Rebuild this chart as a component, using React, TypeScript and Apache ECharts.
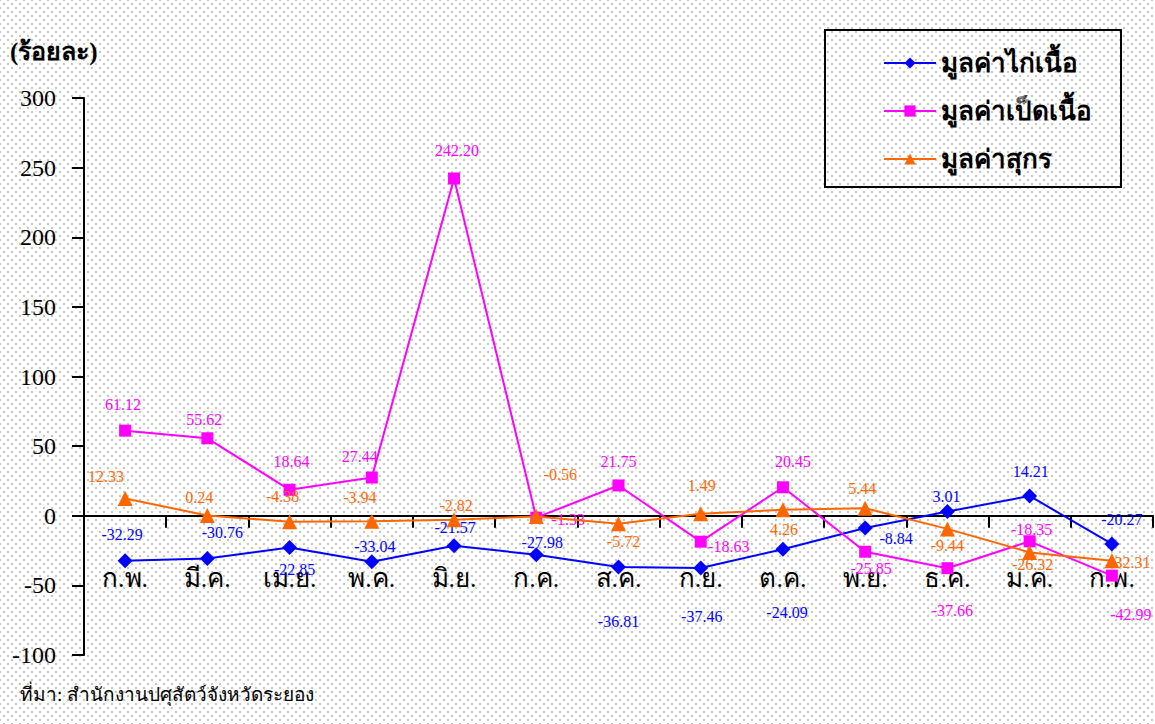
import React, { useEffect, useRef } from "react";
import * as echarts from "echarts";

const categories = ["ก.พ.", "มี.ค.", "เม.ย.", "พ.ค.", "มิ.ย.", "ก.ค.", "ส.ค.", "ก.ย.", "ต.ค.", "พ.ย.", "ธ.ค.", "ม.ค.", "ก.พ."];
const seriesNames = ["มูลค่าไก่เนื้อ", "มูลค่าเป็ดเนื้อ", "มูลค่าสุกร"];
const chicken = [-32.29, -30.76, -22.85, -33.04, -21.57, -27.98, -36.81, -37.46, -24.09, -8.84, 3.01, 14.21, -20.27];
const duck = [61.12, 55.62, 18.64, 27.44, 242.2, -1.33, 21.75, -18.63, 20.45, -25.85, -37.66, -18.35, -42.99];
const pork = [12.33, 0.24, -4.38, -3.94, -2.82, -0.56, -5.72, 1.49, 4.26, 5.44, -9.44, -26.32, -32.31];

// label offsets (layout only), relative to each point
const chickenLabelOffset = [[-3, -26], [15, -26], [5, 22], [3, -15], [1, -18], [6, -12], [0, 54], [1, 49], [4, 63], [31, 10], [-1, -15], [1, -24], [10, -24]];
const duckLabelOffset = [[-2, -26], [-3, -19], [2, -28], [-12, -21], [3, -28], [32, 2], [0, -24], [28, 5], [10, -26], [6, 17], [5, 42], [2, -12], [19, 39]];
const porkLabelOffset = [[-19, -22], [-8, -18], [-7, -25], [-12, -24], [2, -14], [24, -42], [5, 18], [1, -28], [1, 20], [-3, -20], [0, 17], [3, 12], [18, 2]];

const SERIF = "Liberation Serif";

function withLabels(values: number[], offsets: number[][], color: string) {
  return values.map((v, i) => ({
    value: v,
    label: {
      show: true,
      position: "inside",
      offset: offsets[i],
      align: "center",
      verticalAlign: "middle",
      color,
      fontSize: 16,
      fontFamily: SERIF,
      formatter: (p: any) => Number(p.value).toFixed(2),
    },
  }));
}

export default function App() {
  const ref = useRef<HTMLDivElement>(null);
  useEffect(() => {
    if (!ref.current) return;
    const chart = echarts.init(ref.current, null, { renderer: "svg" });
    const colors = ["#0000FF", "#FF00FF", "#FF6600"];
    chart.setOption({
      animation: false,
      backgroundColor: "transparent",
      color: colors,
      textStyle: { fontFamily: SERIF },
      grid: { left: 84, right: 2, top: 98, bottom: 69, containLabel: false },
      legend: {
        orient: "vertical",
        left: 878,
        top: 45,
        itemGap: 22,
        itemWidth: 52,
        itemHeight: 14,
        textStyle: { fontSize: 26, fontWeight: "bold", color: "#000", fontFamily: SERIF },
        data: seriesNames,
      },
      graphic: [
        {
          type: "rect",
          shape: { x: 825, y: 30, width: 296, height: 157 },
          style: { fill: "transparent", stroke: "#000", lineWidth: 2 },
          z: 10,
        },
        {
          type: "text",
          left: 10,
          top: 39,
          style: { text: "(ร้อยละ)", fontSize: 25, fontWeight: "bold", fill: "#000", fontFamily: SERIF },
        },
        {
          type: "text",
          left: 20,
          top: 685,
          style: { text: "ที่มา: สำนักงานปศุสัตว์จังหวัดระยอง", fontSize: 19, fill: "#000", fontFamily: SERIF },
        },
      ],
      xAxis: {
        type: "category",
        data: categories,
        boundaryGap: true,
        axisLine: { onZero: true, lineStyle: { color: "#000", width: 2 } },
        axisTick: { show: true, inside: false, length: 12, interval: 0, lineStyle: { color: "#000", width: 2 } },
        axisLabel: { interval: 0, margin: -90, fontSize: 26, color: "#000", fontFamily: SERIF },
        splitLine: { show: false },
      },
      yAxis: {
        type: "value",
        min: -100,
        max: 300,
        interval: 50,
        axisLine: { show: true, lineStyle: { color: "#000", width: 2 } },
        axisTick: { show: true, inside: false, length: 12, lineStyle: { color: "#000", width: 2 } },
        axisLabel: { margin: 28, fontSize: 24, color: "#000", fontFamily: SERIF },
        splitLine: { show: false },
      },
      series: [
        {
          name: seriesNames[0],
          type: "line",
          data: withLabels(chicken, chickenLabelOffset, colors[0]),
          symbol: "diamond",
          symbolSize: 15,
          lineStyle: { width: 2, color: colors[0] },
          itemStyle: { color: colors[0] },
          z: 3,
        },
        {
          name: seriesNames[1],
          type: "line",
          data: withLabels(duck, duckLabelOffset, colors[1]),
          symbol: "rect",
          symbolSize: 12,
          lineStyle: { width: 2, color: colors[1] },
          itemStyle: { color: colors[1] },
          z: 4,
        },
        {
          name: seriesNames[2],
          type: "line",
          data: withLabels(pork, porkLabelOffset, colors[2]),
          symbol: "triangle",
          symbolSize: 15,
          lineStyle: { width: 2, color: colors[2] },
          itemStyle: { color: colors[2] },
          z: 5,
        },
      ],
    });
    return () => chart.dispose();
  }, []);

  const bg =
    "radial-gradient(circle, #c4c4c4 0.9px, transparent 1.4px) 0 0 / 8px 8px, radial-gradient(circle, #c4c4c4 0.9px, transparent 1.4px) 4px 4px / 8px 8px, #ffffff";

  return (
    <div
      ref={ref}
      style={{ position: "fixed", left: 0, top: 0, width: 1155, height: 724, background: bg }}
    />
  );
}
